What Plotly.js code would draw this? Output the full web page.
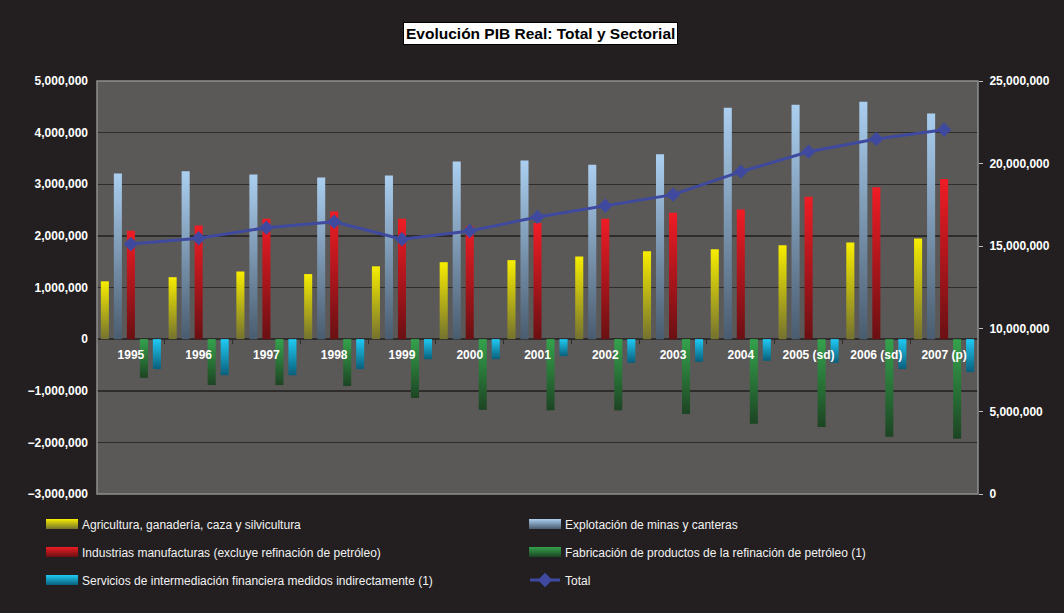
<!DOCTYPE html>
<html>
<head>
<meta charset="utf-8">
<script src="https://cdn.plot.ly/plotly-3.0.1.min.js"></script>
<style>
  html, body { margin: 0; padding: 0; background: #231f20; }
  #chart { width: 1064px; height: 613px; }
</style>
</head>
<body>
<svg width="0" height="0" style="position:absolute">
  <defs>
    <linearGradient id="g0" x1="0" y1="0" x2="0" y2="1"><stop offset="0" stop-color="#f7ed00"/><stop offset="1" stop-color="#74722f"/></linearGradient>
    <linearGradient id="g1" x1="0" y1="0" x2="0" y2="1"><stop offset="0" stop-color="#abcff0"/><stop offset="1" stop-color="#4a5c6f"/></linearGradient>
    <linearGradient id="g2" x1="0" y1="0" x2="0" y2="1"><stop offset="0" stop-color="#ef1c25"/><stop offset="1" stop-color="#6a1013"/></linearGradient>
    <linearGradient id="g3" x1="0" y1="0" x2="0" y2="1"><stop offset="0" stop-color="#34a24c"/><stop offset="1" stop-color="#1d4423"/></linearGradient>
    <linearGradient id="g4" x1="0" y1="0" x2="0" y2="1"><stop offset="0" stop-color="#1fcaf4"/><stop offset="1" stop-color="#0a5f7b"/></linearGradient>
  </defs>
</svg>
<div id="chart"></div>
<script>
const years = ['1995','1996','1997','1998','1999','2000','2001','2002','2003','2004','2005 (sd)','2006 (sd)','2007 (p)'];
const agricultura = [1120000,1200000,1310000,1260000,1410000,1490000,1530000,1600000,1700000,1740000,1820000,1870000,1950000];
const mineria = [3210000,3250000,3190000,3130000,3170000,3440000,3460000,3380000,3580000,4480000,4540000,4600000,4370000];
const manufactura = [2100000,2200000,2330000,2470000,2330000,2190000,2250000,2330000,2450000,2510000,2760000,2940000,3100000];
const refinacion = [-750000,-890000,-890000,-910000,-1140000,-1370000,-1380000,-1380000,-1450000,-1640000,-1700000,-1890000,-1930000];
const sifmi = [-580000,-700000,-700000,-580000,-390000,-390000,-330000,-460000,-440000,-420000,-460000,-580000,-640000];
const total = [15130000,15480000,16120000,16480000,15420000,15920000,16770000,17450000,18120000,19510000,20720000,21490000,22050000];

const names = [
  'Agricultura, ganadería, caza y silvicultura',
  'Explotación de minas y canteras',
  'Industrias manufacturas (excluye refinación de petróleo)',
  'Fabricación de productos de la refinación de petróleo (1)',
  'Servicios de intermediación financiera medidos indirectamente (1)',
  'Total'
];
const fallback = ['#c4bd1c','#7e99b3','#b8181e','#287536','#1494ba'];
const series = [agricultura, mineria, manufactura, refinacion, sifmi];
const legendFor = ['legend','legend','legend2','legend2','legend3'];

const data = series.map((vals, i) => ({
  type: 'bar', name: names[i], x: years, y: vals, yaxis: 'y',
  marker: {color: fallback[i], line: {width: 0}},
  legend: legendFor[i], hoverinfo: 'skip'
}));
data.push({
  type: 'scatter', mode: 'lines+markers', name: names[5], x: years, y: total, yaxis: 'y2',
  line: {color: '#3f4a9f', width: 3},
  marker: {symbol: 'diamond', size: 11, color: '#3f4a9f'},
  legend: 'legend3', hoverinfo: 'skip'
});

const font = 'Arial, "Liberation Sans", sans-serif';
const legendBase = (y) => ({
  orientation: 'h', x: -0.0624, xanchor: 'left', y: y, yanchor: 'middle',
  entrywidth: 438, entrywidthmode: 'pixels', bgcolor: 'rgba(0,0,0,0)',
  font: {family: font, size: 12, color: '#f2f2f2'}, traceorder: 'normal'
});

const layout = {
  width: 1064, height: 613,
  paper_bgcolor: '#231f20', plot_bgcolor: '#5b5957',
  margin: {l: 97, r: 86, t: 81, b: 119},
  font: {family: font, color: '#ffffff'},
  barmode: 'group', bargap: 0.04, bargroupgap: 0.38,
  showlegend: true,
  xaxis: {
    type: 'category', range: [-0.5, 12.5], autorange: false,
    anchor: 'free', position: 0.375,
    showgrid: false, showline: false, zeroline: false,
    ticks: 'outside', tickson: 'boundaries', ticklen: 4, tickcolor: '#2f2d2c',
    ticklabelstandoff: 7,
    tickfont: {family: font, size: 12, color: '#ffffff', weight: 'bold'}
  },
  yaxis: {
    range: [-3000000, 5000000], dtick: 1000000, tickformat: ',d',
    showgrid: true, gridcolor: '#2f2d2c', gridwidth: 1.5,
    zeroline: true, zerolinecolor: '#2f2d2c', zerolinewidth: 1.5,
    showline: false, ticks: '', ticklabelstandoff: 8,
    tickfont: {family: font, size: 12, color: '#ffffff', weight: 'bold'}
  },
  yaxis2: {
    overlaying: 'y', side: 'right', range: [0, 25000000], dtick: 5000000, tickformat: ',d',
    showgrid: false, zeroline: false, showline: false,
    ticks: 'outside', ticklen: 4, tickcolor: '#bdbdbd', ticklabelstandoff: 4,
    tickfont: {family: font, size: 12, color: '#ffffff', weight: 'bold'}
  },
  legend: legendBase(-0.0726),
  legend2: legendBase(-0.1404),
  legend3: legendBase(-0.2082),
  shapes: [{
    type: 'rect', xref: 'paper', yref: 'paper', x0: 0, x1: 1, y0: 0, y1: 1,
    line: {color: '#8e8e8e', width: 1.5}, layer: 'above'
  }],
  annotations: [{
    text: '<b>Evolución PIB Real: Total y Sectorial</b>',
    xref: 'paper', yref: 'paper', x: 0.503, y: 1.116, xanchor: 'center', yanchor: 'middle',
    showarrow: false, bgcolor: '#ffffff', bordercolor: '#000000', borderwidth: 1, borderpad: 2,
    font: {family: font, size: 15.5, color: '#000000'}
  }]
};

Plotly.newPlot('chart', data, layout, {displayModeBar: false, staticPlot: true}).then(gd => {
  gd.querySelectorAll('.barlayer .trace.bars').forEach(tr => {
    const d = tr.__data__;
    const idx = d && d[0] && d[0].trace ? d[0].trace.index : null;
    if (idx === null || idx > 4) return;
    tr.querySelectorAll('path').forEach(p => { p.style.fill = 'url(#g' + idx + ')'; });
  });
  gd.querySelectorAll('.infolayer g.traces').forEach(tr => {
    const d = tr.__data__;
    const idx = d && d[0] && d[0].trace ? d[0].trace.index : null;
    if (idx === null || idx > 4) return;
    tr.querySelectorAll('.legendpoints path').forEach(p => {
      p.style.fill = 'url(#g' + idx + ')';
      p.setAttribute('d', 'M-16,5H16V-5H-16Z');
    });
  });
});
</script>
</body>
</html>
